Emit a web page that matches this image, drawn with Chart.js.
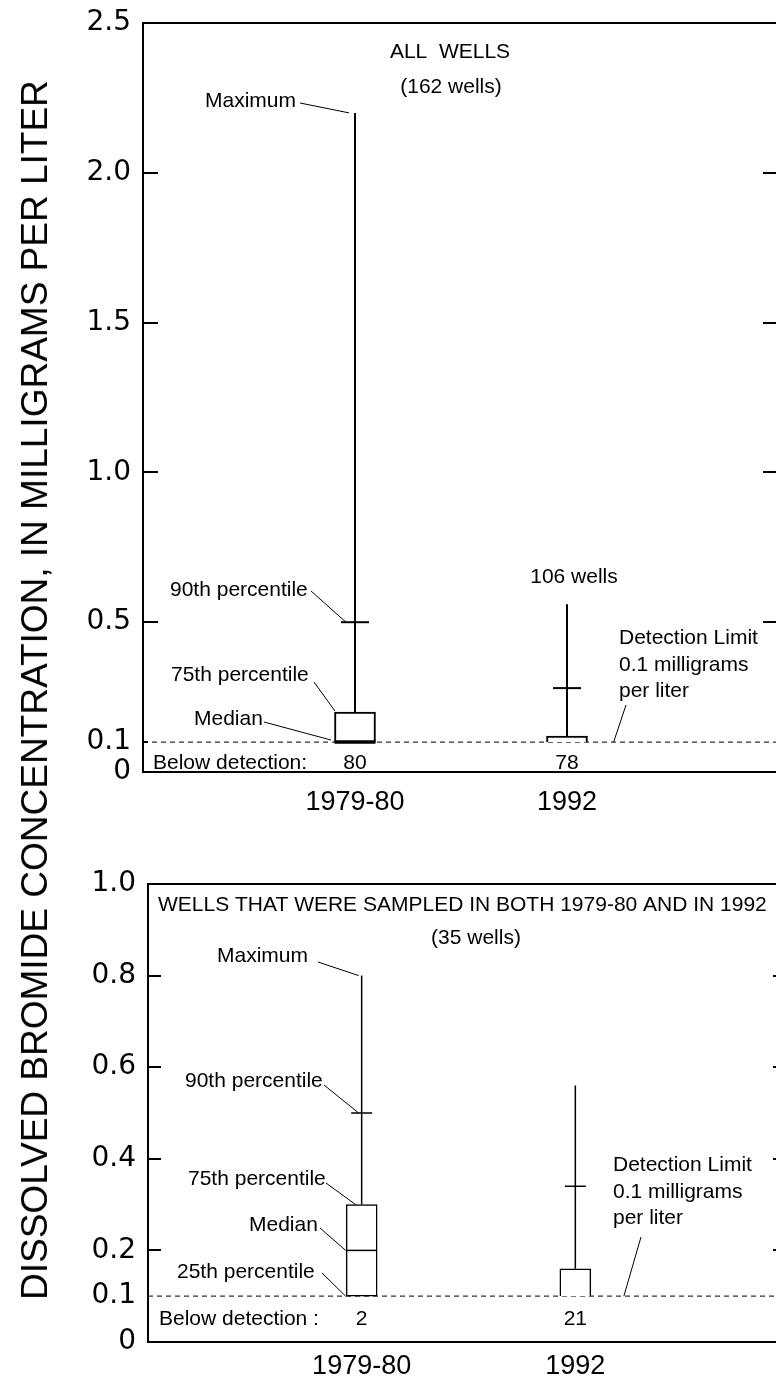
<!DOCTYPE html>
<html>
<head>
<meta charset="utf-8">
<script src="https://cdn.jsdelivr.net/npm/chart.js@4.4.1/dist/chart.umd.min.js"></script>
<style>
  html, body { margin: 0; padding: 0; background: #fff; width: 776px; height: 1381px; overflow: hidden; position: relative; }
  canvas { position: absolute; left: 0; }
  #c1 { top: 0; }
  #c2 { top: 840px; }
  #ytitle {
    position: absolute; left: 35px; top: 690px;
    transform: translate(-50%, -50%) rotate(-90deg);
    white-space: nowrap; color: #000;
    font: 37px "Liberation Sans", Arial, sans-serif;
  }
</style>
</head>
<body>
<canvas id="c1" width="800" height="830"></canvas>
<canvas id="c2" width="800" height="541"></canvas>
<div id="ytitle">DISSOLVED BROMIDE CONCENTRATION, IN MILLIGRAMS PER LITER</div>
<script>
// ---------------- DATA ----------------
const categories = ['1979-80', '1992'];
const catPos = [1, 2];
const detectionLimit = 0.1;

// Panel A: all wells (162 wells)
const allMaximum = [2.2, 0.56];
const allP90 = [0.5, 0.28];
const allP75 = [0.2, 0.12];
const allMedian = [0.1, null];
const allP25 = [null, null];
const allBelowDetection = [80, 78];
const allYTicks = [0, 0.1, 0.5, 1.0, 1.5, 2.0, 2.5];

// Panel B: wells sampled in both 1979-80 and 1992 (35 wells)
const bothMaximum = [0.8, 0.56];
const bothP90 = [0.5, 0.34];
const bothP75 = [0.3, 0.16];
const bothMedian = [0.2, null];
const bothP25 = [0.1, null];
const bothBelowDetection = [2, 21];
const bothYTicks = [0, 0.1, 0.2, 0.4, 0.6, 0.8, 1.0];

// ---------------- STYLE / LAYOUT ----------------
const ANN_FONT = '21px "Liberation Sans", Arial, sans-serif';
const BL = 7.5; // baseline offset from cap centre

const annotationPlugin = {
  id: 'ann',
  afterDatasetsDraw(chart) {
    const o = chart.options.plugins.ann;
    const ctx = chart.ctx, ca = chart.chartArea;
    const xs = chart.scales.x, ys = chart.scales.y;
    const top = o.canvasTop;
    ctx.save();
    ctx.strokeStyle = '#000';
    // top frame line
    ctx.lineWidth = 2;
    ctx.beginPath(); ctx.moveTo(ca.left - 1, ca.top); ctx.lineTo(ca.right + 1, ca.top); ctx.stroke();
    // inner tick marks
    ctx.lineWidth = 2;
    o.leftTicks.forEach(t => {
      const y = Math.round(ys.getPixelForValue(t.v));
      ctx.beginPath(); ctx.moveTo(ca.left, y); ctx.lineTo(ca.left + t.len, y); ctx.stroke();
    });
    o.rightTicks.forEach(t => {
      const y = Math.round(ys.getPixelForValue(t.v));
      ctx.beginPath(); ctx.moveTo(ca.right, y); ctx.lineTo(ca.right - t.len, y); ctx.stroke();
    });
    // leaders
    ctx.lineWidth = 1;
    o.leaders.forEach(l => {
      const x2 = xs.getPixelForValue(l.to[0]) + (l.to[2] || 0);
      const y2 = ys.getPixelForValue(l.to[1]) + (l.to[3] || 0);
      ctx.beginPath(); ctx.moveTo(l.from[0], l.from[1] - top); ctx.lineTo(x2, y2); ctx.stroke();
    });
    // texts
    ctx.fillStyle = '#000';
    ctx.font = ANN_FONT;
    ctx.textBaseline = 'alphabetic';
    o.texts.forEach(t => {
      ctx.textAlign = t.align || 'left';
      ctx.fillText(t.t, t.x, t.cy - top + BL);
    });
    // below-detection counts
    ctx.textAlign = 'center';
    o.below.forEach((n, i) => {
      ctx.fillText(String(n), xs.getPixelForValue(catPos[i]), o.belowCy - top + BL);
    });
    ctx.restore();
  }
};

function buildChart(id, P) {
  const dl = detectionLimit;
  const boxes = catPos.map((x, i) => ({ x: x, y: [P.p25[i] ?? dl, P.p75[i]] }));
  const whiskers = [];
  catPos.forEach((x, i) => {
    whiskers.push({ x: x, y: P.p75[i] }, { x: x, y: P.max[i] }, { x: x + 0.5, y: null });
  });
  const p90 = catPos.map((x, i) => ({ x: x, y: P.p90[i] }));
  const med = catPos.map((x, i) => ({ x: x, y: P.median[i] })).filter(d => d.y != null);
  const S = P.style;

  return new Chart(document.getElementById(id), {
    type: 'bar',
    data: {
      datasets: [
        { type: 'line', data: [{ x: 0, y: dl }, { x: 3, y: dl }], borderColor: '#333', borderWidth: 1.3,
          borderDash: [5, 4], pointRadius: 0, order: 10 },
        { type: 'bar', data: boxes, backgroundColor: '#fff', borderColor: '#000', borderWidth: S.boxLine,
          barThickness: S.boxWidth, borderSkipped: c => (P.p25[c.dataIndex] == null ? 'start' : false), order: 5 },
        { type: 'line', data: whiskers, borderColor: '#000', borderWidth: S.whiskerLine, pointRadius: 0,
          spanGaps: false, order: 4 },
        { type: 'scatter', data: p90, pointStyle: 'line', pointRadius: S.crossHalf, borderColor: '#000',
          borderWidth: S.whiskerLine, order: 3 },
        { type: 'scatter', data: med, pointStyle: 'line', pointRadius: S.boxWidth / 2, borderColor: '#000',
          borderWidth: S.medianLine, order: 2 }
      ]
    },
    options: {
      responsive: false, animation: false, devicePixelRatio: 1, events: [],
      layout: { padding: S.padding, autoPadding: false },
      plugins: {
        legend: { display: false }, tooltip: { enabled: false },
        ann: S.ann
      },
      scales: {
        x: {
          type: 'linear', min: 0, max: 3, offset: false,
          afterBuildTicks: s => { s.ticks = catPos.map(v => ({ value: v })); },
          afterFit: s => { s.height = S.xAxisHeight; s.paddingLeft = 0; s.paddingRight = 0; },
          grid: { display: true, drawOnChartArea: false, drawTicks: false, offset: false },
          border: { display: true, color: '#000', width: 2 },
          ticks: {
            autoSkip: false, maxRotation: 0, color: '#000', padding: S.xPad,
            font: { family: '"Liberation Sans", Arial, sans-serif', size: 27 },
            callback: v => { const k = catPos.indexOf(v); return k >= 0 ? categories[k] : ''; }
          }
        },
        y: {
          type: 'linear', min: 0, max: P.yMax,
          afterBuildTicks: s => { s.ticks = P.yTicks.map(v => ({ value: v })); },
          afterFit: s => { s.width = S.yAxisWidth; s.paddingTop = 0; s.paddingBottom = 0; },
          grid: { display: true, drawOnChartArea: false, drawTicks: false },
          border: { display: true, color: '#000', width: 2 },
          ticks: {
            autoSkip: false, color: '#000', padding: 12,
            font: { family: '"DejaVu Sans", Verdana, sans-serif', size: 28 },
            callback: v => (v === 0 ? '0' : v.toFixed(1))
          }
        }
      }
    },
    plugins: [annotationPlugin]
  });
}

// Panel A
buildChart('c1', {
  max: allMaximum, p90: allP90, p75: allP75, median: allMedian, p25: allP25,
  yMax: 2.5, yTicks: allYTicks,
  style: {
    padding: { top: 23, left: 0, right: 21, bottom: 0 },
    xAxisHeight: 58, yAxisWidth: 143, xPad: 14,
    boxWidth: 41, boxLine: 2, whiskerLine: 2, medianLine: 3.5, crossHalf: 14,
    ann: {
      canvasTop: 0,
      leftTicks: [{ v: 2.0, len: 15 }, { v: 1.5, len: 15 }, { v: 1.0, len: 15 }, { v: 0.5, len: 15 }, { v: 0.1, len: 5 }],
      rightTicks: [{ v: 2.0, len: 16 }, { v: 1.5, len: 16 }, { v: 1.0, len: 16 }, { v: 0.5, len: 16 }],
      leaders: [
        { from: [300, 103], to: [catPos[0], allMaximum[0], -6, 0] },
        { from: [311, 591], to: [catPos[0], allP90[0], -9, 0] },
        { from: [314, 682], to: [catPos[0], allP75[0], -20, -1] },
        { from: [264, 722], to: [catPos[0], allMedian[0], -24, -2] },
        { from: [626, 705], to: [2.22, detectionLimit, 0, 0] }
      ],
      texts: [
        { t: 'ALL  WELLS', x: 450, cy: 50, align: 'center' },
        { t: '(162 wells)', x: 451, cy: 85, align: 'center' },
        { t: 'Maximum', x: 205, cy: 99 },
        { t: '90th percentile', x: 170, cy: 588 },
        { t: '75th percentile', x: 171, cy: 673 },
        { t: 'Median', x: 194, cy: 717 },
        { t: '106 wells', x: 574, cy: 575, align: 'center' },
        { t: 'Detection Limit', x: 619, cy: 636 },
        { t: '0.1 milligrams', x: 619, cy: 663 },
        { t: 'per liter', x: 619, cy: 689 },
        { t: 'Below detection:', x: 153, cy: 761 }
      ],
      below: allBelowDetection, belowCy: 761
    }
  }
});

// Panel B
buildChart('c2', {
  max: bothMaximum, p90: bothP90, p75: bothP75, median: bothMedian, p25: bothP25,
  yMax: 1.0, yTicks: bothYTicks,
  style: {
    padding: { top: 44, left: 0, right: 11, bottom: 0 },
    xAxisHeight: 39, yAxisWidth: 148, xPad: 8,
    boxWidth: 31, boxLine: 1.5, whiskerLine: 1.5, medianLine: 1.5, crossHalf: 10.5,
    ann: {
      canvasTop: 840,
      leftTicks: [{ v: 0.8, len: 13 }, { v: 0.6, len: 13 }, { v: 0.4, len: 13 }, { v: 0.2, len: 13 }],
      rightTicks: [{ v: 0.8, len: 16 }, { v: 0.6, len: 16 }, { v: 0.4, len: 16 }, { v: 0.2, len: 16 }],
      leaders: [
        { from: [318, 962], to: [catPos[0], bothMaximum[0], -3, 0] },
        { from: [324, 1085], to: [catPos[0], bothP90[0], -3, 0] },
        { from: [326, 1183], to: [catPos[0], bothP75[0], -6, 0] },
        { from: [320, 1228], to: [catPos[0], bothMedian[0], -16, 0] },
        { from: [322, 1273], to: [catPos[0], bothP25[0], -16, 0] },
        { from: [641, 1237], to: [2.227, detectionLimit, 0, 0] }
      ],
      texts: [
        { t: 'WELLS THAT WERE SAMPLED IN BOTH 1979-80 AND IN 1992', x: 158, cy: 903 },
        { t: '(35 wells)', x: 476, cy: 936, align: 'center' },
        { t: 'Maximum', x: 217, cy: 954 },
        { t: '90th percentile', x: 185, cy: 1079 },
        { t: '75th percentile', x: 188, cy: 1177 },
        { t: 'Median', x: 249, cy: 1223 },
        { t: '25th percentile', x: 177, cy: 1270 },
        { t: 'Detection Limit', x: 613, cy: 1163 },
        { t: '0.1 milligrams', x: 613, cy: 1190 },
        { t: 'per liter', x: 613, cy: 1216 },
        { t: 'Below detection :', x: 159, cy: 1317 }
      ],
      below: bothBelowDetection, belowCy: 1317
    }
  }
});
</script>
</body>
</html>
